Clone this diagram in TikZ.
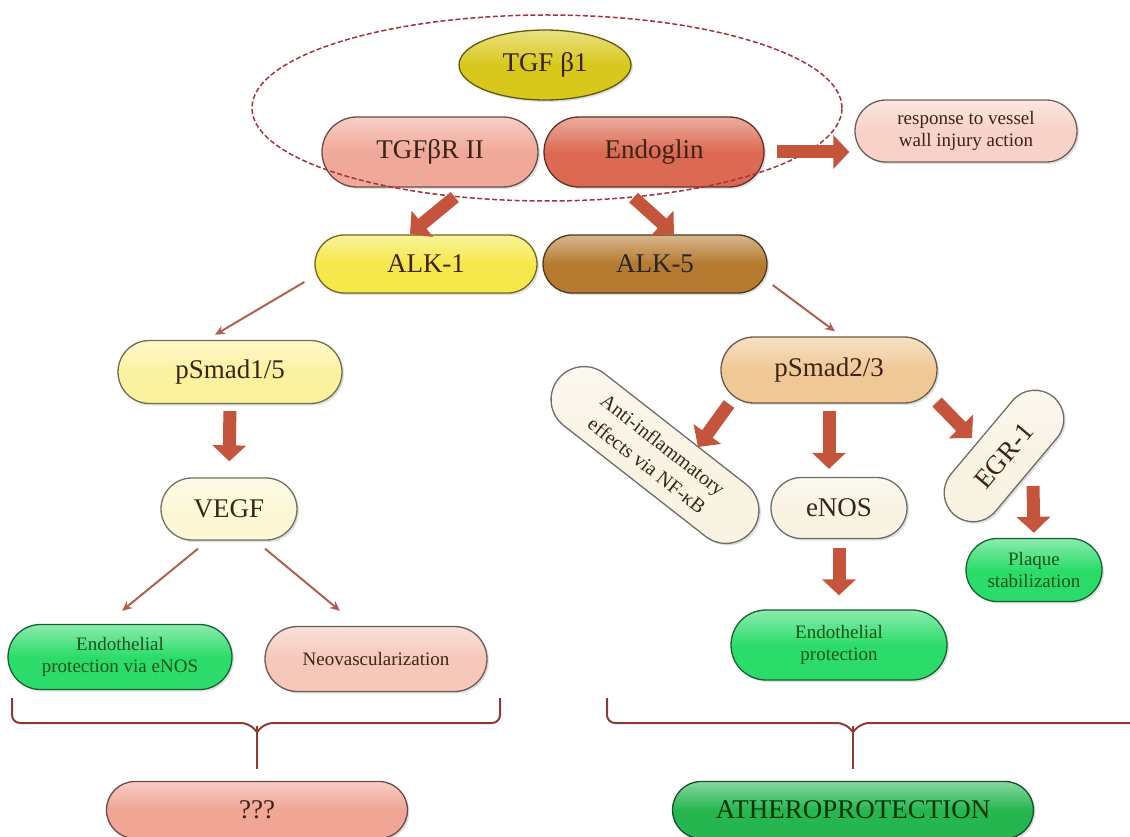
\documentclass[tikz,border=0pt]{standalone}
\usepackage{fontspec}
\setmainfont{Liberation Serif}
\usetikzlibrary{positioning,arrows.meta,shapes.misc,shapes.geometric,shadows}

\definecolor{ink}{HTML}{3A2418}
\definecolor{leafink}{HTML}{17531A}
\definecolor{cTgf}{HTML}{D8C81C}
\definecolor{cRec}{HTML}{F0A898}
\definecolor{cEndo}{HTML}{DC6A52}
\definecolor{cResp}{HTML}{F8D2C8}
\definecolor{cAlkA}{HTML}{F6E84A}
\definecolor{cAlkB}{HTML}{B57A30}
\definecolor{cSmadA}{HTML}{FBF2A0}
\definecolor{cVegf}{HTML}{FCF8D6}
\definecolor{cSmadB}{HTML}{F0C896}
\definecolor{cCream}{HTML}{F9F3E4}
\definecolor{cGreen}{HTML}{2CDC6A}
\definecolor{cDeep}{HTML}{26B650}
\definecolor{cNeo}{HTML}{F5C8BA}
\definecolor{cUnk}{HTML}{F0A595}
\definecolor{fatred}{HTML}{C4553C}
\definecolor{thinred}{HTML}{B0604E}
\definecolor{dashred}{HTML}{A8303C}
\definecolor{bracered}{HTML}{8E3A30}

\begin{document}
\begin{tikzpicture}[x=1pt,y=-1pt,
  every node/.style={text=ink},
  pill/.style={rounded rectangle,draw=#1!45!black,line width=1.3pt,
    top color=#1!55!white,bottom color=#1,middle color=#1,
    align=center,inner sep=3pt,
    drop shadow={opacity=0.25,shadow xshift=2pt,shadow yshift=-2pt}},
  big/.style={font=\fontsize{27}{30}\selectfont},
  small/.style={font=\fontsize{19}{22}\selectfont},
  leaf/.style={pill=cGreen,small,text=leafink},
  fat/.style={line width=13pt,draw=fatred,-{Triangle[length=16pt,width=33pt]}},
  thinarr/.style={line width=2pt,draw=thinred,-{Stealth[length=10pt,width=9pt]}},
  brace/.style={line width=2pt,draw=bracered,rounded corners=8pt}
]
\useasboundingbox (0,0) rectangle (1130,837);

% receptor complex
\node[pill=cTgf,ellipse,big,minimum width=172pt,minimum height=70pt] (tgf) at (545,65) {TGF β1};
\node[pill=cRec,big,minimum width=222pt,minimum height=70pt] (tgfr) at (430,152) {TGFβR II};
\node[pill=cEndo,big,minimum width=226pt,minimum height=70pt] (endo) at (654,152) {Endoglin};
\node[pill=cResp,small,minimum width=228pt,minimum height=62pt] (resp) at (966,131) {response to vessel\\wall injury action};
\node[ellipse,draw=dashred,line width=1.5pt,dash pattern=on 5pt off 2.5pt,
  minimum width=590pt,minimum height=186pt] (cplx) at (547,108) {};

% type I receptors
\node[pill=cAlkA,big,minimum width=228pt,minimum height=58pt] (alk1) at (426,264) {ALK-1};
\node[pill=cAlkB,big,minimum width=230pt,minimum height=58pt,text=black!85] (alk5) at (655,264) {ALK-5};

% left branch
\node[pill=cSmadA,big,minimum width=230pt,minimum height=63pt] (p15) at (230,372) {pSmad1/5};
\node[pill=cVegf,big,minimum width=142pt,minimum height=62pt] (vegf) at (229,509) {VEGF};
\node[leaf,minimum width=230pt,minimum height=65pt] (eprot1) at (120,657) {Endothelial\\protection via eNOS};
\node[pill=cNeo,small,minimum width=228pt,minimum height=65pt] (neo) at (376,659) {Neovascularization};
\node[pill=cUnk,big,minimum width=307pt,minimum height=57pt] (unk) at (257,810) {???};

% right branch
\node[pill=cSmadB,big,minimum width=222pt,minimum height=66pt] (p23) at (829,370) {pSmad2/3};
\node[pill=cCream,font=\fontsize{20}{26}\selectfont,minimum width=252pt,minimum height=66pt,rotate=-38] (anti) at (655,455) {Anti-inflammatory\\effects via NF-κB};
\node[pill=cCream,big,minimum width=142pt,minimum height=61pt] (enos) at (839,508) {eNOS};
\node[pill=cCream,big,minimum width=160pt,minimum height=58pt,rotate=50] (egr) at (1004,456) {EGR-1};
\node[leaf,minimum width=222pt,minimum height=70pt] (eprot2) at (839,645) {Endothelial\\protection};
\node[leaf,minimum width=142pt,minimum height=63pt] (plaque) at (1034,570) {Plaque\\stabilization};
\node[pill=cDeep,big,minimum width=367pt,minimum height=57pt,text=black!80!green] (athero) at (853,810) {ATHEROPROTECTION};

% arrow ends
\coordinate (k1) at (410,234);
\coordinate (k5) at (674,234);
\coordinate (a1) at (729,404);
\coordinate (a2) at (698,447);
\coordinate (r1) at (937,402);
\coordinate (r2) at (972,438);
\coordinate (g1) at (1033,486);

% fat arrows
\draw[fat,shorten <=12pt,shorten >=5pt] (endo.east) -- (endo.east -| resp.west);
\draw[fat] (cplx.-136) -- (k1);
\draw[fat] (cplx.-46) -- (k5);
\draw[fat,shorten <=7pt,shorten >=16pt] (p15.south) -- (vegf.north);
\draw[fat] (a1) -- (a2);
\draw[fat,shorten <=7pt,shorten >=8pt] (p23.south) -- (p23.south |- enos.north);
\draw[fat] (r1) -- (r2);
\draw[fat,shorten <=9pt,shorten >=14pt] (enos.south) -- (eprot2.north);
\draw[fat,shorten >=5pt] (g1) -- (plaque.north);

% thin arrows
\draw[thinarr] ([xshift=-10pt,yshift=-18pt]alk1.west) -- ([xshift=-15pt,yshift=5pt]p15.north);
\draw[thinarr] ([xshift=5pt,yshift=-21pt]alk5.east) -- ([xshift=6pt,yshift=5pt]p23.north);
\draw[thinarr] ([xshift=-31pt,yshift=-8pt]vegf.south) -- ([xshift=2pt,yshift=13pt]eprot1.north);
\draw[thinarr] ([xshift=36pt,yshift=-8pt]vegf.south) -- ([xshift=-36pt,yshift=15pt]neo.north);

% brackets
\draw[brace] (12,698) -- (12,723) -- (249,723) -- (257,732);
\draw[brace] (500,698) -- (500,723) -- (265,723) -- (257,732);
\draw[brace,shorten >=12pt] (257,726) -- (unk.north);
\draw[brace] (607,698) -- (607,723) -- (845,723) -- (853,732);
\draw[brace] (1132,723) -- (861,723) -- (853,732);
\draw[brace,shorten >=12pt] (853,726) -- (athero.north);
\end{tikzpicture}
\end{document}
